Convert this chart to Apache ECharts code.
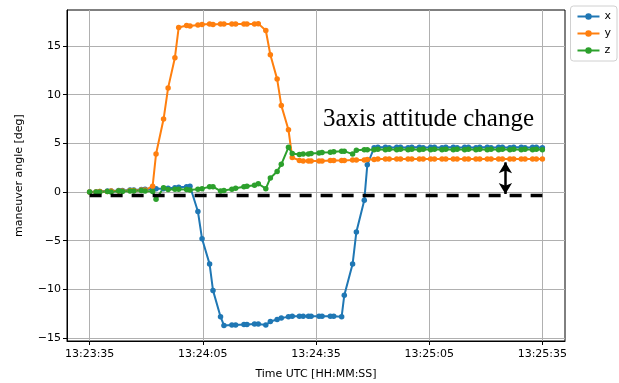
<!DOCTYPE html>
<html>
<head>
<meta charset="utf-8">
<script src="https://cdn.jsdelivr.net/npm/echarts@6/dist/echarts.min.js"></script>
<style>
  html, body { margin: 0; padding: 0; background: #fff; }
  #chart { width: 619px; height: 383px; }
</style>
</head>
<body>
<div id="chart"></div>
<script>
// seconds after 13:23:35
const times = [
  0, 1.7, 2.7, 4.7, 5.7, 7.7, 8.7, 10.7, 11.7, 13.7, 14.7,
  16.7, 17.6, 19.6, 20.8, 22.6, 23.6, 25.7, 26.6, 28.7, 29.8,
  31.8, 32.7, 34.7, 35.6, 37.7, 38.7, 40.9, 41.7, 43.7, 44.7,
  46.7, 47.9, 49.7, 50.8, 52.7, 53.7, 55.6, 56.6, 58.0, 58.7,
  60.8, 61.6, 63.8, 64.7, 66.8, 67.5, 69.7, 70.7, 72.8, 73.6,
  75.4, 76.4, 78.4, 79.4, 81.4, 82.4, 84.4, 85.4, 87.4, 88.4,
  90.4, 91.4, 93.4, 94.4, 96.4, 97.4, 99.4, 100.4, 102.4, 103.4,
  105.4, 106.4, 108.4, 109.4, 111.4, 112.4, 114.4, 115.4, 117.4, 118.4, 120
];

const xVals = [
  0.0, 0.0, 0.05, 0.1, 0.1, 0.15, 0.15, 0.2, 0.2, 0.25, 0.3,
  0.3, 0.35, 0.35, 0.4, 0.45, 0.5, 0.55, 0.6, -2.0, -4.8,
  -7.4, -10.1, -12.8, -13.7, -13.65, -13.65, -13.6, -13.6, -13.55, -13.55,
  -13.65, -13.3, -13.1, -12.95, -12.8, -12.75, -12.75, -12.75, -12.75, -12.75,
  -12.75, -12.75, -12.75, -12.75, -12.8, -10.6, -7.4, -4.1, -0.85, 2.8,
  4.55, 4.6, 4.6, 4.55, 4.6, 4.6, 4.55, 4.6, 4.6, 4.55,
  4.6, 4.6, 4.55, 4.6, 4.6, 4.55, 4.6, 4.6, 4.55, 4.6,
  4.6, 4.55, 4.6, 4.6, 4.55, 4.6, 4.6, 4.55, 4.6, 4.6, 4.55
];

const yVals = [
  0.0, 0.0, 0.05, 0.05, 0.1, 0.1, 0.1, 0.15, 0.15, 0.2, 0.2,
  0.6, 3.9, 7.5, 10.7, 13.8, 16.9, 17.1, 17.05, 17.15, 17.2,
  17.25, 17.2, 17.25, 17.25, 17.25, 17.25, 17.25, 17.25, 17.25, 17.3,
  16.6, 14.1, 11.6, 8.9, 6.4, 3.55, 3.25, 3.2, 3.2, 3.2,
  3.2, 3.2, 3.25, 3.25, 3.25, 3.25, 3.3, 3.3, 3.3, 3.35,
  3.35, 3.4, 3.4, 3.4, 3.4, 3.4, 3.4, 3.4, 3.4, 3.4,
  3.4, 3.4, 3.4, 3.4, 3.4, 3.4, 3.4, 3.4, 3.4, 3.4,
  3.4, 3.4, 3.4, 3.4, 3.4, 3.4, 3.4, 3.4, 3.4, 3.4, 3.4
];

const zVals = [
  0.0, 0.0, 0.0, 0.05, 0.0, 0.1, 0.05, 0.1, 0.1, 0.15, 0.1,
  0.05, -0.75, 0.45, 0.25, 0.3, 0.3, 0.25, 0.2, 0.3, 0.35,
  0.55, 0.55, 0.1, 0.15, 0.3, 0.4, 0.55, 0.6, 0.7, 0.85,
  0.35, 1.45, 2.1, 2.85, 4.6, 3.95, 3.85, 3.9, 3.9, 3.95,
  4.0, 4.05, 4.1, 4.15, 4.2, 4.2, 3.9, 4.3, 4.35, 4.35,
  4.35, 4.4, 4.35, 4.4, 4.35, 4.4, 4.35, 4.4, 4.35, 4.4,
  4.35, 4.4, 4.35, 4.4, 4.35, 4.4, 4.35, 4.4, 4.35, 4.4,
  4.35, 4.4, 4.35, 4.4, 4.35, 4.4, 4.35, 4.4, 4.35, 4.4, 4.35
];

const xTicks = [0, 30, 60, 90, 120];
const xTickLabels = ['13:23:35', '13:24:05', '13:24:35', '13:25:05', '13:25:35'];
const yTicks = [-15, -10, -5, 0, 5, 10, 15];

const baseLevel = [[0, -0.35], [120, -0.35]];
const arrowEnds = [[110.2, 3.05], [110.2, -0.2]];

const chart = echarts.init(document.getElementById('chart'), null, { renderer: 'canvas' });

const font = 'DejaVu Sans';
const pair = (arr) => times.map((t, i) => [t, arr[i]]);

const lineSeries = (name, color, vals) => ({
  name: name,
  type: 'line',
  data: pair(vals),
  symbol: 'circle',
  symbolSize: 5.5,
  showSymbol: true,
  lineStyle: { width: 2, color: color },
  itemStyle: { color: color },
  emphasis: { disabled: true },
  z: 3
});

const option = {
  animation: false,
  grid: {
    left: 67, right: 54, top: 10, bottom: 42,
    outerBoundsMode: 'none',
    show: true, borderColor: '#000', borderWidth: 1
  },
  legend: {
    data: ['x', 'y', 'z'],
    orient: 'vertical',
    right: 2, top: 6,
    itemWidth: 22, itemHeight: 8, itemGap: 6,
    padding: [5, 6, 5, 6],
    borderColor: '#d0d0d0', borderWidth: 1, borderRadius: 3,
    textStyle: { fontFamily: font, fontSize: 11, color: '#000' }
  },
  xAxis: {
    type: 'value',
    min: -6, max: 126,
    name: 'Time UTC [HH:MM:SS]',
    nameLocation: 'middle',
    nameGap: 28,
    nameTextStyle: { fontFamily: font, fontSize: 11, color: '#000' },
    axisLine: { onZero: false, lineStyle: { color: '#000', width: 1 } },
    axisTick: { show: true, length: 4, customValues: xTicks, lineStyle: { color: '#000' } },
    axisLabel: {
      customValues: xTicks,
      fontFamily: font, fontSize: 11, color: '#000', margin: 8,
      formatter: (v) => xTickLabels[xTicks.indexOf(v)] || ''
    },
    splitLine: { show: true, lineStyle: { color: '#b0b0b0', width: 1 } }
  },
  yAxis: {
    type: 'value',
    min: -15.3, max: 18.7,
    name: 'maneuver angle [deg]',
    nameLocation: 'middle',
    nameGap: 42,
    nameTextStyle: { fontFamily: font, fontSize: 11, color: '#000' },
    axisLine: { show: true, onZero: false, lineStyle: { color: '#000', width: 1 } },
    axisTick: { show: true, length: 4, customValues: yTicks, lineStyle: { color: '#000' } },
    axisLabel: {
      customValues: yTicks,
      fontFamily: font, fontSize: 11, color: '#000', margin: 6,
      formatter: (v) => String(v).replace('-', '\u2212')
    },
    splitLine: { show: true, lineStyle: { color: '#b0b0b0', width: 1 } }
  },
  graphic: [{
    type: 'text',
    left: 323, top: 107,
    style: {
      text: '3axis attitude change',
      font: '25px "Liberation Serif", "Times New Roman", serif',
      fill: '#000'
    },
    z: 10
  }],
  series: [
    lineSeries('x', '#1f77b4', xVals),
    lineSeries('y', '#ff7f0e', yVals),
    lineSeries('z', '#2ca02c', zVals),
    {
      name: 'base',
      type: 'line',
      data: baseLevel,
      symbol: 'none',
      lineStyle: { color: '#000', width: 3.5, type: [12, 9] },
      emphasis: { disabled: true },
      z: 4,
      markLine: {
        silent: true,
        symbol: ['arrow', 'arrow'],
        symbolSize: [10, 11],
        label: { show: false },
        lineStyle: { color: '#000', width: 2.5, type: 'solid' },
        data: [[{ coord: arrowEnds[0] }, { coord: arrowEnds[1] }]]
      }
    }
  ]
};

chart.setOption(option);
</script>
</body>
</html>
